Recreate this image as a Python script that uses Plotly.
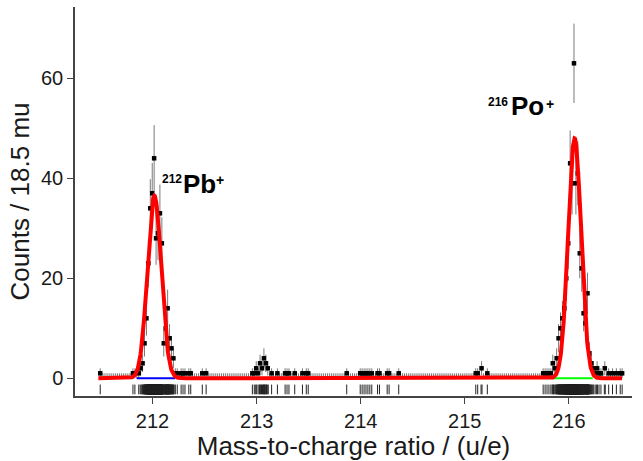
import numpy as np
import plotly.graph_objects as go

# ---------------- data ----------------
bin_start = 211.47          # u/e, left edge of bin 0
bin_width = 0.0185          # u/e (18.5 mu)
n_bins = 273

# non-zero histogram bins (bin index, counts)
nz_bins = [1,
           18, 19, 21, 22, 23, 24, 25, 26, 27, 28, 29, 30, 31, 32, 33, 34, 35, 36, 37, 38, 39, 40, 41,
           43, 44, 45, 47, 48, 54, 56,
           80, 81, 82, 83, 84, 85, 86, 87, 88, 90, 93, 97, 98, 99, 102, 106, 108, 109,
           129, 136, 137, 138, 139, 140, 141, 142, 145, 146, 150, 151, 156,
           196, 197, 199, 202,
           231, 232, 233, 234, 235, 236, 237, 238, 239, 240, 241, 242, 243, 244, 245, 246, 247, 248,
           249, 250, 251, 252, 253, 254, 255, 256, 257, 258, 259, 260, 261, 263, 265, 267, 269, 271, 272]
nz_counts = [1,
             1, 1, 1, 2, 3, 7, 12, 23, 34, 37, 44, 28, 29, 33, 27, 7, 10, 14, 8, 6, 4, 1, 1,
             1, 1, 1, 1, 1, 1, 1,
             1, 1, 2, 1, 3, 2, 4, 3, 2, 1, 1, 1, 1, 1, 1, 1, 1, 1,
             1, 1, 1, 1, 1, 1, 1, 1, 1, 1, 1, 1, 1,
             1, 1, 2, 1,
             1, 1, 1, 1, 1, 3, 2, 4, 8, 10, 12, 14, 20, 27, 43, 39, 63, 39,
             41, 25, 22, 13, 11, 17, 5, 3, 2, 1, 2, 1, 1, 2, 1, 1, 1, 1, 1]

# fit parameters
bkg = 0.0
pb_amp, pb_mu, pb_sig = 36.5, 212.018, 0.066
po_amp, po_mu, po_sig = 48.0, 216.055, 0.062
fit_lo, fit_hi = 211.48, 216.51
pb_band = [211.848, 212.216]
po_band = [215.849, 216.229]

x_ticks = [212, 213, 214, 215, 216]
y_ticks = [0, 20, 40, 60]

# ---------------- derived ----------------
counts = np.zeros(n_bins)
for b, c in zip(nz_bins, nz_counts):
    counts[b] = c
centers = bin_start + bin_width * (np.arange(n_bins) + 0.5)
sel = np.arange(1, n_bins)
cx = centers[sel]
cy = counts[sel]
err_p = np.where(cy > 0, np.sqrt(cy), 1.0)
err_m = np.where(cy > 0, np.sqrt(cy), 0.0)

# rug: one line per event, spread inside its bin
rx, ry = [], []
for b, c in zip(nz_bins, nz_counts):
    left = bin_start + bin_width * b
    for k in range(c):
        xe = left + bin_width * (k + 0.5) / c
        rx += [xe, xe, None]
        ry += [-1.25, -3.2, None]

xf = np.linspace(fit_lo, fit_hi, 2000)
yf = (bkg + pb_amp * np.exp(-0.5 * ((xf - pb_mu) / pb_sig) ** 2)
      + po_amp * np.exp(-0.5 * ((xf - po_mu) / po_sig) ** 2))

fig = go.Figure()
fig.add_trace(go.Scatter(x=rx, y=ry, mode="lines",
                         line=dict(color="#222222", width=1), hoverinfo="skip"))
fig.add_trace(go.Scatter(x=cx, y=cy, mode="markers",
                         marker=dict(symbol="square", size=4.5, color="black",
                                     opacity=[1 if v > 0 else 0 for v in cy]),
                         error_y=dict(type="data", symmetric=False, array=err_p,
                                      arrayminus=err_m, color="#7a7a7a",
                                      thickness=1, width=0)))
fig.add_trace(go.Scatter(x=pb_band, y=[0, 0], mode="lines",
                         line=dict(color="#0000ff", width=2)))
fig.add_trace(go.Scatter(x=po_band, y=[0, 0], mode="lines",
                         line=dict(color="#00ff00", width=2)))
fig.add_trace(go.Scatter(x=xf, y=yf, mode="lines",
                         line=dict(color="#ff0000", width=4)))

font = "Liberation Sans, Arial, sans-serif"
ann = [
    dict(x=212.1873, y=39.86, text="212", size=12),
    dict(x=212.4467, y=38.86, text="Pb", size=26),
    dict(x=212.6484, y=39.66, text="+", size=14),
    dict(x=215.3189, y=55.26, text="216", size=12),
    dict(x=215.5975, y=54.46, text="Po", size=26),
    dict(x=215.8184, y=54.96, text="+", size=14),
]
for a in ann:
    fig.add_annotation(x=a["x"], y=a["y"], xref="x", yref="y", text="<b>%s</b>" % a["text"],
                       showarrow=False, borderpad=0, borderwidth=0,
                       font=dict(family=font, size=a["size"], color="black"))

fig.update_layout(
    width=643, height=461,
    margin=dict(l=75, r=11, t=7, b=65),
    paper_bgcolor="white", plot_bgcolor="white",
    showlegend=False,
    font=dict(family=font, color="#1a1a1a"),
)
fig.update_xaxes(range=[211.2555, 216.606], tickvals=x_ticks, ticks="outside", ticklen=6,
                 tickcolor="#444", showline=True, linecolor="#444", linewidth=1.5,
                 showgrid=False, zeroline=False, tickfont=dict(size=20),
                 title=dict(text="Mass-to-charge ratio / (u/e)", font=dict(size=26), standoff=0))
fig.update_yaxes(range=[-3.54, 74.26], tickvals=y_ticks, ticks="outside", ticklen=6,
                 tickcolor="#444", showline=True, linecolor="#444", linewidth=1.5,
                 showgrid=False, zeroline=False, tickfont=dict(size=20),
                 title=dict(text="Counts / 18.5 mu", font=dict(size=26), standoff=4))

fig.write_html("out.html")
